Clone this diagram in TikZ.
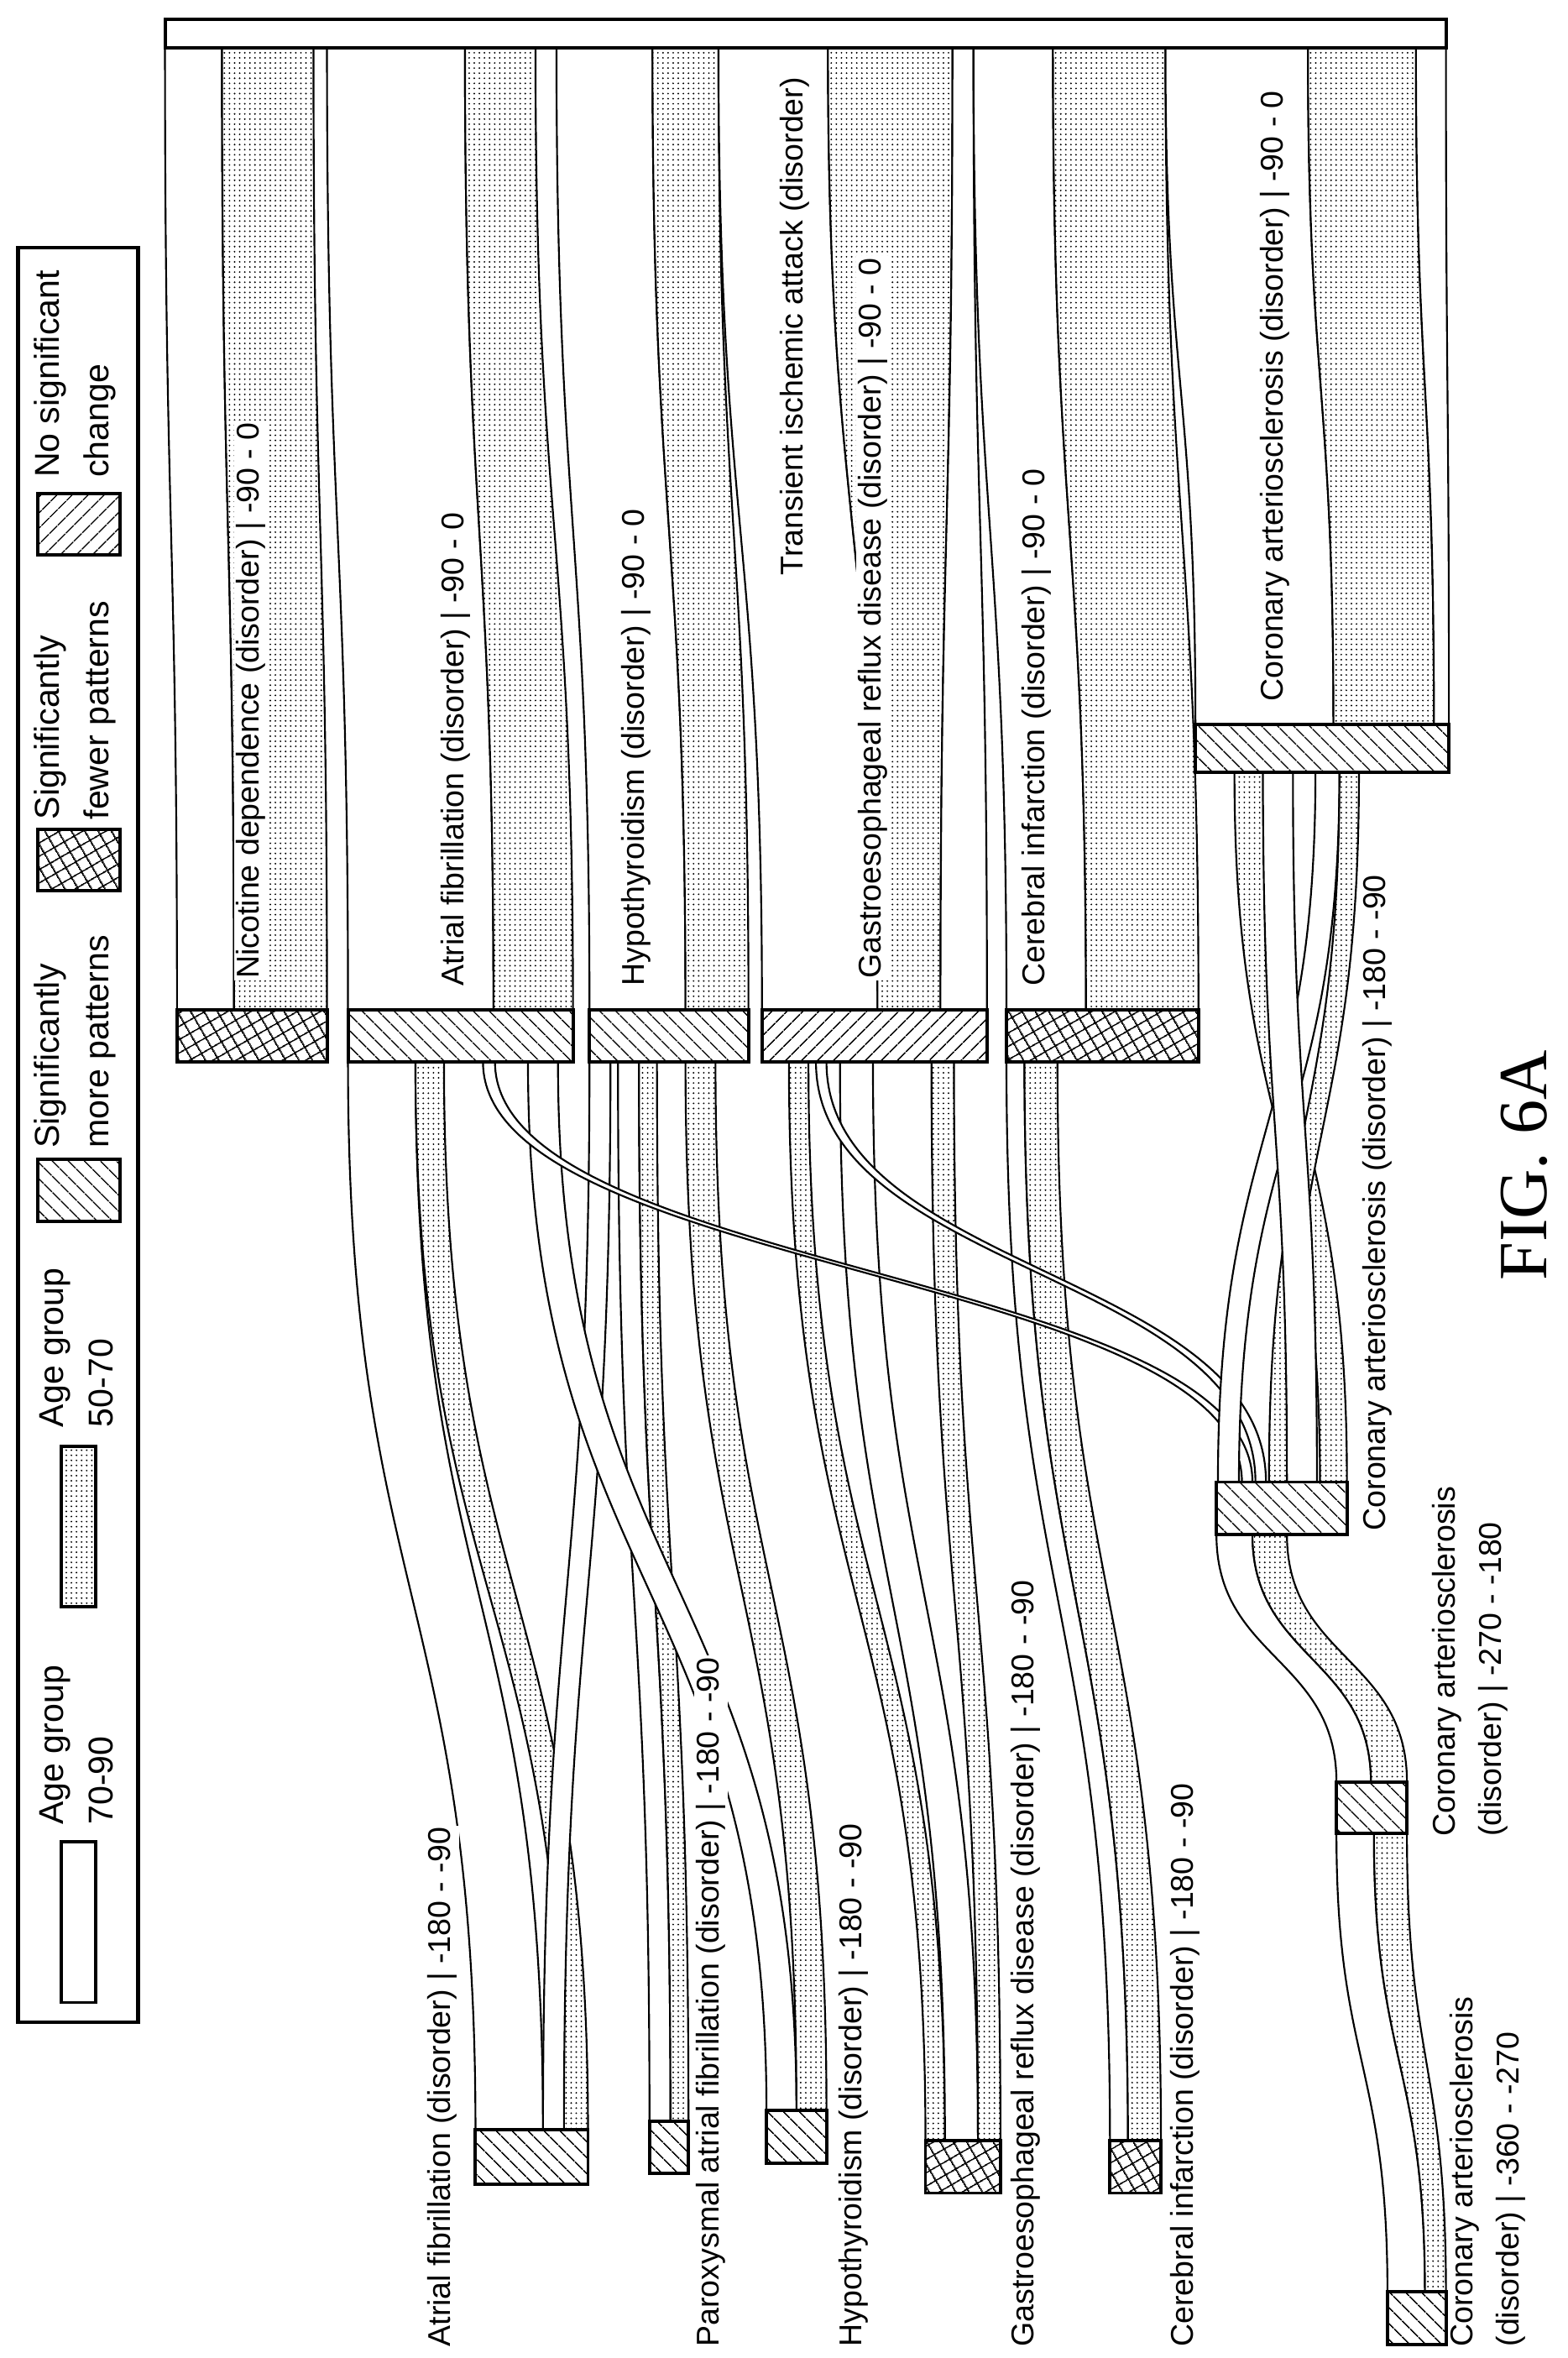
\documentclass[tikz,border=0pt]{standalone}
\usepackage{fontspec}
\setmainfont{Liberation Sans}
\newfontfamily\figfont{Liberation Serif}
\usetikzlibrary{patterns.meta}

\tikzset{
  wband/.style={draw,fill=white,line width=0.6pt},
  dband/.style={draw,line width=0.6pt,preaction={fill=white},pattern={Dots[distance=1.7pt,radius=0.3pt]}},
  more/.style={draw,line width=1.1pt,preaction={fill=white},pattern={Lines[angle=-45,distance=4pt,line width=0.5pt]}},
  fewer/.style={draw,line width=1.1pt,preaction={fill=white},pattern={Hatch[angle=30,distance=4pt,line width=0.5pt]}},
  nochange/.style={draw,line width=1.1pt,preaction={fill=white},pattern={Lines[angle=45,distance=4pt,line width=0.5pt]}},
  lab/.style={rotate=90,anchor=west,inner sep=0.6pt,fill=white,font=\fontsize{10.5}{15.5}\selectfont,align=left},
  leglab/.style={lab,font=\fontsize{11.5}{16.5}\selectfont},
}
% band between two horizontal edges
\newcommand\flow[7]{\draw[#7] (#1,#3) .. controls (#1,{(#3+#6)/2}) and (#4,{(#3+#6)/2}) .. (#4,#6)
  -- (#5,#6) .. controls (#5,{(#3+#6)/2}) and (#2,{(#3+#6)/2}) .. (#2,#3) -- cycle;}

\begin{document}
\begin{tikzpicture}[x=0.5pt,y=-0.5pt]
\useasboundingbox (0,0) rectangle (1045,1572);

% legend
\draw[line width=1.2pt] (12,165) rectangle (92,1348);
\draw[wband,line width=1.1pt] (41,1228) rectangle (64,1335);
\node[leglab] (leg1) at (51,1218) {Age group\\70-90};
\draw[dband,line width=1.1pt] (41,964) rectangle (64,1071);
\node[leglab] (leg2) at (51,953) {Age group\\50-70};
\draw[more] (25,773) rectangle (80,814);
\node[leglab] (leg3) at (50,767) {Significantly\\more patterns};
\draw[fewer] (25,553) rectangle (80,594);
\node[leglab] (leg4) at (50,548) {Significantly\\fewer patterns};
\draw[nochange] (25,329) rectangle (80,370);
\node[leglab] (leg5) at (50,320) {No significant\\change};

% bands up to the top frame
\flow{110}{148}{32}{118}{156}{673}{wband}
\flow{148}{209}{32}{156}{218}{673}{dband}
\flow{218}{310}{32}{232}{329}{673}{wband}
\flow{310}{357}{32}{329}{382}{673}{dband}
\flow{371}{435}{32}{393}{457}{673}{wband}
\flow{435}{479}{32}{457}{499}{673}{dband}
\flow{479}{552}{32}{508}{585}{673}{wband}
\flow{552}{635}{32}{585}{627}{673}{dband}
\flow{635}{649}{32}{627}{658}{673}{wband}
\flow{649}{702}{32}{671}{724}{673}{wband}
\flow{702}{777}{32}{724}{799}{673}{dband}
\flow{777}{872}{32}{797}{889}{483}{wband}
\flow{872}{944}{32}{889}{956}{483}{dband}
\flow{944}{964}{32}{956}{966}{483}{wband}

% bands down to the -180 - -90 column
\flow{232}{277}{708}{317}{362}{1420}{wband}
\flow{277}{296}{708}{376}{392}{1420}{dband}
\flow{393}{407}{708}{362}{376}{1420}{wband}
\flow{412}{426}{708}{433}{447}{1414}{wband}
\flow{426}{438}{708}{447}{459}{1414}{dband}
\flow{352}{372}{708}{511}{531}{1407}{wband}
\flow{457}{477}{708}{531}{551}{1407}{dband}
\flow{526}{539}{708}{617}{630}{1427}{dband}
\flow{560}{582}{708}{630}{652}{1427}{wband}
\flow{621}{636}{708}{652}{667}{1427}{dband}
\flow{671}{683}{708}{740}{752}{1427}{wband}
\flow{683}{705}{708}{752}{774}{1427}{dband}
\flow{322}{330}{708}{828}{835}{988}{wband}
\flow{544}{551}{708}{837}{844}{988}{wband}
\flow{823}{842}{515}{880}{898}{988}{dband}
\flow{877}{893}{515}{812}{826}{988}{wband}
\flow{893}{906}{515}{846}{858}{988}{dband}
\flow{842}{862}{515}{858}{878}{988}{wband}
\flow{811}{835}{1023}{891}{914}{1188}{wband}
\flow{835}{858}{1023}{914}{938}{1188}{dband}
\flow{891}{916}{1222}{925}{950}{1528}{wband}
\flow{916}{938}{1222}{950}{964}{1528}{dband}

% top frame
\draw[line width=1.1pt,fill=white] (110,13) rectangle (964,32);

% -90 - 0 bars
\draw[fewer] (118,673) rectangle (218,708);
\draw[more] (232,673) rectangle (382,708);
\draw[more] (393,673) rectangle (499,708);
\draw[nochange] (508,673) rectangle (658,708);
\draw[fewer] (671,673) rectangle (799,708);
\draw[more] (797,483) rectangle (966,515);
% coronary chain
\draw[more] (811,988) rectangle (898,1023);
\draw[more] (891,1188) rectangle (938,1222);
\draw[more] (925,1528) rectangle (964,1563);
% -180 - -90 bars
\draw[more] (317,1420) rectangle (392,1456);
\draw[more] (433,1414) rectangle (459,1449);
\draw[more] (511,1407) rectangle (551,1442);
\draw[fewer] (617,1427) rectangle (667,1462);
\draw[fewer] (740,1427) rectangle (774,1462);

% labels
\node[lab] (nic) at (167,654) {Nicotine dependence (disorder) | -90 - 0};
\node[lab] (atr) at (304,659) {Atrial fibrillation (disorder) | -90 - 0};
\node[lab] (hyp) at (424,659) {Hypothyroidism (disorder) | -90 - 0};
\node[lab] (tia) at (530,385) {Transient ischemic attack (disorder)};
\node[lab] (ger) at (582,654) {Gastroesophageal reflux disease (disorder) | -90 - 0};
\node[lab] (cer) at (691,659) {Cerebral infarction (disorder) | -90 - 0};
\node[lab] (cor) at (850,469) {Coronary arteriosclerosis (disorder) | -90 - 0};
\node[lab] (corb) at (918,1022) {Coronary arteriosclerosis (disorder) | -180 - -90};
\node[lab] (corc) at (980,1226) {Coronary arteriosclerosis\\(disorder) | -270 - -180};
\node[lab] (cord) at (992,1566) {Coronary arteriosclerosis\\(disorder) | -360 - -270};
\node[lab] (atrb) at (295,1566) {Atrial fibrillation (disorder) | -180 - -90};
\node[lab] (par) at (474,1566) {Paroxysmal atrial fibrillation (disorder) | -180 - -90};
\node[lab] (hypb) at (569,1566) {Hypothyroidism (disorder) | -180 - -90};
\node[lab] (gerb) at (684,1566) {Gastroesophageal reflux disease (disorder) | -180 - -90};
\node[lab] (cerb) at (790,1566) {Cerebral infarction (disorder) | -180 - -90};

\node[rotate=90,font=\figfont\fontsize{23}{25}\selectfont] (fig) at (1016,777) {FIG. 6A};
\end{tikzpicture}
\end{document}
